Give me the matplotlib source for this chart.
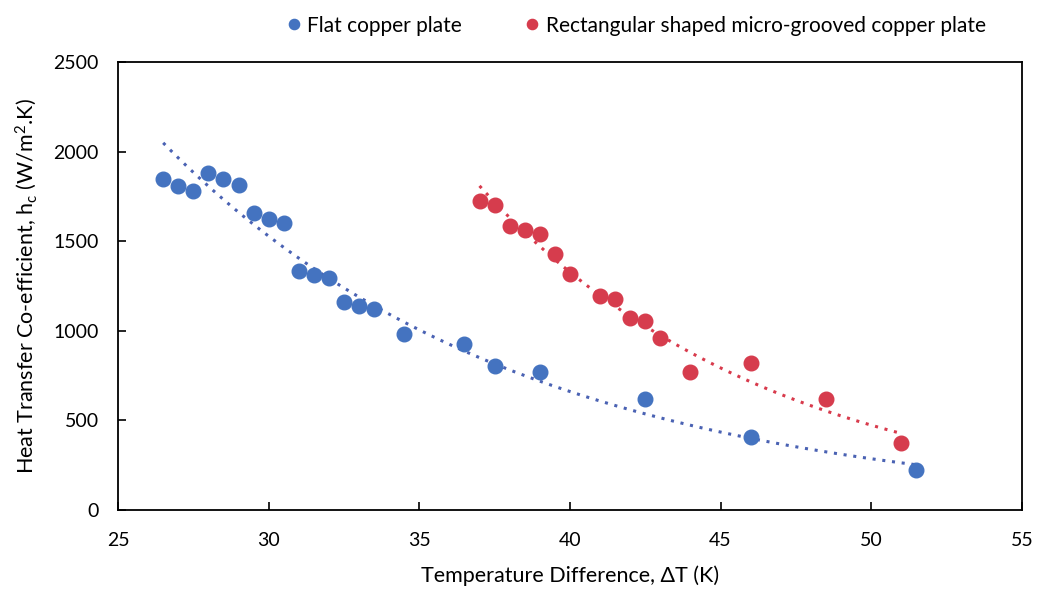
import numpy as np
import matplotlib
matplotlib.use("Agg")
import matplotlib.pyplot as plt

# data
flat_dt = [26.5, 27, 27.5, 28, 28.5, 29, 29.5, 30, 30.5, 31, 31.5, 32, 32.5, 33, 33.5,
           34.5, 36.5, 37.5, 39, 42.5, 46, 51.5]
flat_hc = [1845, 1810, 1778, 1880, 1845, 1813, 1655, 1625, 1602, 1334, 1311, 1295, 1161, 1138, 1122,
           982, 926, 804, 770, 619, 407, 223]

groove_dt = [37, 37.5, 38, 38.5, 39, 39.5, 40, 41, 41.5, 42, 42.5, 43, 44, 46, 48.5, 51]
groove_hc = [1724, 1702, 1585, 1562, 1540, 1429, 1317, 1194, 1177, 1071, 1055, 960, 770, 820, 619, 374]

labels = ["Flat copper plate", "Rectangular shaped micro-grooved copper plate"]
blue = "#4473c0"
red = "#d63c4d"
blue_trend = "#4a62b3"
red_trend = "#d83a4c"

plt.rcParams['font.family'] = ['Lato', 'DejaVu Sans']
plt.rcParams['mathtext.default'] = 'regular'

fig = plt.figure(figsize=(10.48, 5.93), dpi=100)
ax = fig.add_axes([0.1126, 0.14, 0.8624, 0.7554])

def exp_trend(x, y):
    # excel style exponential trendline
    b, a = np.polyfit(x, np.log(y), 1)
    xs = np.linspace(min(x), max(x), 100)
    return xs, np.exp(a + b * xs)

for x, y, c, tc, lab in [(flat_dt, flat_hc, blue, blue_trend, labels[0]),
                         (groove_dt, groove_hc, red, red_trend, labels[1])]:
    ax.plot(x, y, 'o', ms=10.5, color=c, label=lab, zorder=3)
    xs, ys = exp_trend(np.array(x), np.array(y))
    ax.plot(xs, ys, linestyle=(0, (1, 2.2)), lw=2.2, color=tc, zorder=2)

ax.set_xlim(25, 55)
ax.set_ylim(0, 2500)
ax.set_xticks(np.arange(25, 56, 5))
ax.set_yticks(np.arange(0, 2501, 500))
ax.tick_params(direction='in', length=6, width=1.2, labelsize=14, pad=16,
               top=False, right=False)
ax.tick_params(axis='y', pad=14)
for s in ax.spines.values():
    s.set_linewidth(1.3)

ax.set_xlabel("Temperature Difference, ΔT (K)", fontsize=15.5, labelpad=12)
ax.set_ylabel("Heat Transfer Co-efficient, h$_c$ (W/m$^2$.K)", fontsize=15.5, labelpad=10)

fig.legend(loc='upper center', bbox_to_anchor=(0.605, 1.005), ncol=2, frameon=False,
           fontsize=15, markerscale=0.7, handletextpad=0.1, columnspacing=2.8,
           handlelength=1.1)

fig.savefig("out.png", dpi=100)
